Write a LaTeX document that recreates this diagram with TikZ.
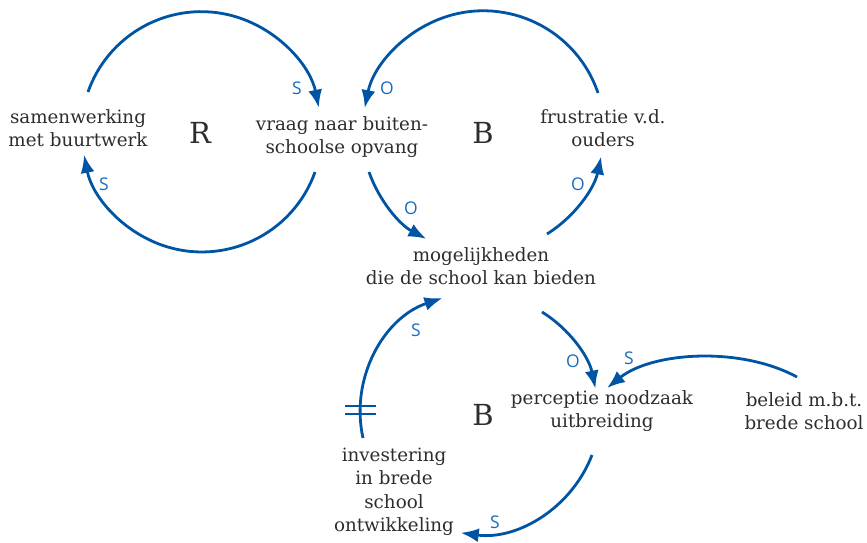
\documentclass[tikz,border=0pt]{standalone}
\usepackage{fontspec}
\setmainfont{DejaVu Serif}
\newfontfamily\labfont{Open Sans}
\usetikzlibrary{arrows.meta}
\definecolor{arr}{RGB}{0,84,164}
\definecolor{lab}{RGB}{24,108,190}
\definecolor{txtc}{RGB}{45,45,45}
\tikzset{
  txt/.style={align=center,text=txtc,font=\fontsize{18.3}{23.5}\selectfont,inner sep=0pt},
  big/.style={text=txtc,font=\fontsize{29}{32}\selectfont,inner sep=0pt},
  lbl/.style={text=lab,font=\labfont\fontsize{17.5}{19}\selectfont,inner sep=0pt},
  conn/.style={draw=arr,line width=2.8pt,-{Latex[length=18pt,width=14pt]}},
  bar/.style={draw=arr,line width=2.8pt}
}
\begin{document}
\begin{tikzpicture}[x=1pt,y=-1pt]
\useasboundingbox (0,0) rectangle (867,542);
% nodes
\node[txt] (sam) at (78,128) {samenwerking\\met buurtwerk};
\node[big] (R) at (200,133) {R};
\node[txt] (vraag) at (342,137) {vraag naar buiten-\\schoolse opvang};
\node[big] (B1) at (483,133) {B};
\node[txt] (frus) at (603,128) {frustratie v.d.\\ouders};
\node[txt] (mog) at (481,266) {mogelijkheden\\die de school kan bieden};
\node[txt] (perc) at (602,411) {perceptie noodzaak\\uitbreiding};
\node[big] (B2) at (483,415) {B};
\node[txt] (bel) at (804,411) {beleid m.b.t.\\brede school};
\node[txt] (inv) at (394,492) {investering\\in brede\\school\\ontwikkeling};
% arc start coordinates
\coordinate (c1) at (88,92);
\coordinate (c2) at (315,172);
\coordinate (c3) at (598,93);
\coordinate (c4) at (547,234);
\coordinate (c5) at (369,172);
\coordinate (c6) at (363,438);
\coordinate (c7) at (542,312);
\coordinate (c8) at (592,455);
\coordinate (c9) at (797,377);
\coordinate (c9e) at (607,388);
% R loop
\draw[conn] (c1) arc[start angle=199.3,end angle=348.5,radius=120];
\draw[conn] (c2) arc[start angle=19.5,end angle=169,radius=120];
% upper B loop
\draw[conn] (c3) arc[start angle=341.3,end angle=191.3,radius=121];
\draw[conn] (c4) arc[start angle=57.9,end angle=11.9,radius=121];
\draw[conn] (c5) arc[start angle=160.7,end angle=118,radius=121];
% lower B loop
\draw[conn] (c6) arc[start angle=167.5,end angle=251.7,radius=120];
\draw[conn] (c7) arc[start angle=301.8,end angle=348.4,radius=118];
\draw[conn] (c8) arc[start angle=21,end angle=97.7,radius=123];
% beleid
\draw[conn] (c9) .. controls (740,346) and (652,352) .. (c9e);
% delay mark
\coordinate (d1) at (345,406); \coordinate (d2) at (376,406);
\coordinate (d3) at (345,414); \coordinate (d4) at (376,414);
\draw[bar] (d1) -- (d2);
\draw[bar] (d3) -- (d4);
% polarity labels
\node[lbl] (l1) at (297,88) {S};
\node[lbl] (l2) at (387,88) {O};
\node[lbl] (l3) at (104,184) {S};
\node[lbl] (l4) at (411,208) {O};
\node[lbl] (l5) at (578,184) {O};
\node[lbl] (l6) at (416,330) {S};
\node[lbl] (l7) at (573,361) {O};
\node[lbl] (l8) at (629,358) {S};
\node[lbl] (l9) at (495,522) {S};
\end{tikzpicture}
\end{document}
